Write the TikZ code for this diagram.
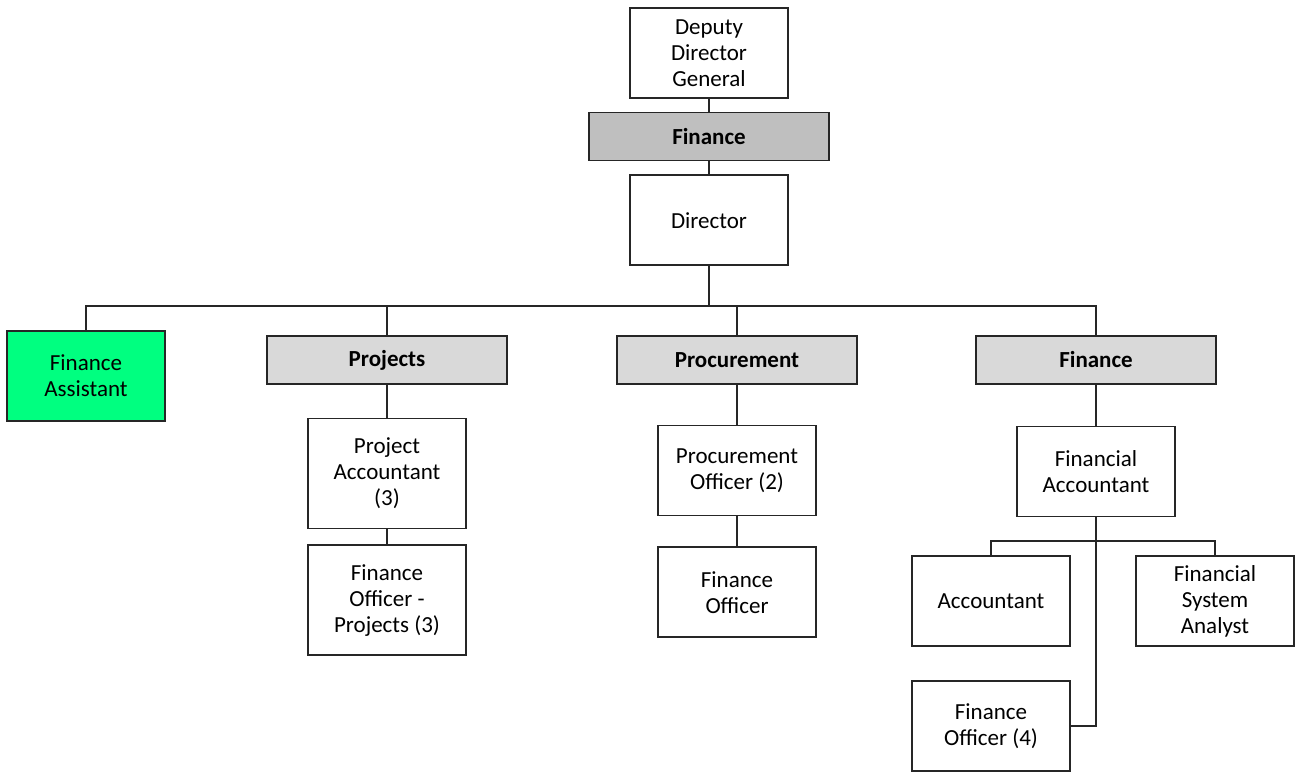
\documentclass[tikz,border=0pt]{standalone}
\usepackage{fontspec}
\setmainfont{Carlito}
\usetikzlibrary{positioning}

\begin{document}
\begin{tikzpicture}[x=1pt, y=-1pt,
            rolenode/.style={rectangle, draw=black!85, fill=white, line width=1.6pt, minimum width=158pt, minimum height=90pt, align=center, font=\fontsize{23}{26}\selectfont, inner sep=2pt},
            unitnode/.style={rectangle, draw=black!85, fill=gray!30, line width=1.6pt, minimum width=240pt, minimum height=48pt, align=center, font=\fontsize{23}{26}\selectfont\bfseries, inner sep=2pt},
            topunit/.style={unitnode, fill=gray!50},
            assistnode/.style={rolenode, fill={rgb,255:red,0;green,255;blue,128}},
        ]
            \useasboundingbox (0,0) rectangle (1296,772);

            %Nodes
            \node[rolenode](ddg) at (709,53) {Deputy\\Director\\General};
            \node[topunit](fintop)[below=13pt of ddg] {Finance};
            \node[rolenode](dir)[below=13pt of fintop] {Director};

            \node[assistnode](fasst) at (86,376) {Finance\\Assistant};
            \node[unitnode](proj) at (387,360) {Projects};
            \node[unitnode](proc) at (737,360) {Procurement};
            \node[unitnode](finunit) at (1096,360) {Finance};

            \node[rolenode, minimum height=110pt](projacc)[below=33pt of proj] {Project\\Accountant\\(3)};
            \node[rolenode, minimum height=110pt](projfo)[below=15pt of projacc] {Finance\\Officer -\\Projects (3)};

            \node[rolenode](procoff)[below=40pt of proc] {Procurement\\Officer (2)};
            \node[rolenode](procfo)[below=30pt of procoff] {Finance\\Officer};

            \node[rolenode](finacc)[below=41pt of finunit] {Financial\\Accountant};
            \node[rolenode](acc) at (991,601) {Accountant};
            \node[rolenode](fsa) at (1215,601) {Financial\\System\\Analyst};
            \node[rolenode](finfo) at (991,726) {Finance\\Officer (4)};

            \coordinate (bus) at (709,306);
            \coordinate (split) at (1095,541);

            %Lines
            \draw[line width=1.6pt, black!85](ddg.south) -- (fintop.north);
            \draw[line width=1.6pt, black!85](fintop.south) -- (dir.north);
            \draw[line width=1.6pt, black!85](dir.south) -- (bus);
            \draw[line width=1.6pt, black!85](fasst.north) |- (bus) -| (finunit.north);
            \draw[line width=1.6pt, black!85](proj.north) -- (proj.north |- bus);
            \draw[line width=1.6pt, black!85](proc.north) -- (proc.north |- bus);

            \draw[line width=1.6pt, black!85](proj.south) -- (projacc.north);
            \draw[line width=1.6pt, black!85](projacc.south) -- (projfo.north);
            \draw[line width=1.6pt, black!85](proc.south) -- (procoff.north);
            \draw[line width=1.6pt, black!85](procoff.south) -- (procfo.north);

            \draw[line width=1.6pt, black!85](finunit.south) -- (finacc.north);
            \draw[line width=1.6pt, black!85](acc.north) |- (split) -| (fsa.north);
            \draw[line width=1.6pt, black!85](finacc.south) |- (finfo.east);
        \end{tikzpicture}
\end{document}
